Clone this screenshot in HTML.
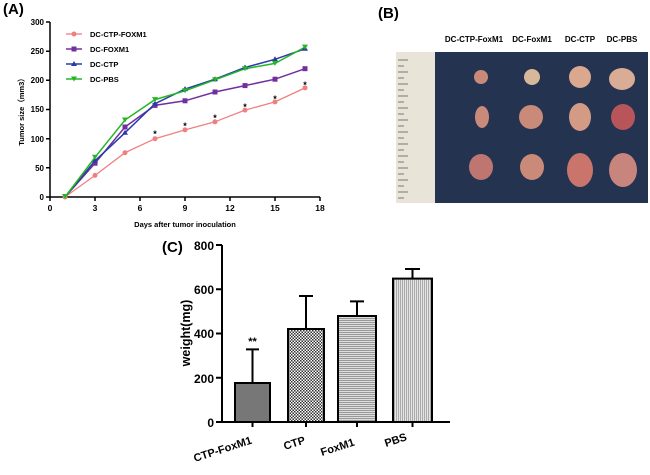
<!DOCTYPE html>
<html><head><meta charset="utf-8"><style>
body{margin:0;background:#fff;width:650px;height:475px;overflow:hidden}
svg{display:block;font-family:"Liberation Sans",Arial,sans-serif;font-weight:bold}
</style></head><body>
<svg width="650" height="475" viewBox="0 0 650 475">
<defs>
<pattern id="chk" width="3" height="3" patternUnits="userSpaceOnUse"><rect width="3" height="3" fill="#fff"/><rect width="1.5" height="1.5" fill="#333"/><rect x="1.5" y="1.5" width="1.5" height="1.5" fill="#333"/></pattern>
<pattern id="hz" width="4" height="2" patternUnits="userSpaceOnUse"><rect width="4" height="2" fill="#ddd"/><rect width="4" height="1" fill="#999"/></pattern>
<pattern id="vt" width="2" height="4" patternUnits="userSpaceOnUse"><rect width="2" height="4" fill="#e4e4e4"/><rect width="1" height="4" fill="#aaa"/></pattern>
</defs>
<!-- Panel A -->
<text x="3" y="14" font-size="15">(A)</text>
<g stroke="#000" stroke-width="1.5" fill="none">
<line x1="50" y1="22" x2="50" y2="197"/><line x1="50" y1="197" x2="320" y2="197"/>
<path d="M46 22h4M46 51.2h4M46 80.3h4M46 109.5h4M46 138.7h4M46 167.8h4M46 197h4"/>
<path d="M50 197v4M95 197v4M140 197v4M185 197v4M230 197v4M275 197v4M320 197v4"/>
</g>
<g font-size="8" text-anchor="end">
<text x="44" y="25">300</text><text x="44" y="54">250</text><text x="44" y="83">200</text><text x="44" y="112">150</text><text x="44" y="142">100</text><text x="44" y="171">50</text><text x="44" y="200">0</text>
</g>
<g font-size="8.5" text-anchor="middle">
<text x="50" y="211">0</text><text x="95" y="211">3</text><text x="140" y="211">6</text><text x="185" y="211">9</text><text x="230" y="211">12</text><text x="275" y="211">15</text><text x="320" y="211">18</text>
</g>
<text x="185" y="227" font-size="7.5" text-anchor="middle">Days after tumor inoculation</text>
<text transform="translate(24,110) rotate(-90)" font-size="7.5" text-anchor="middle">Tumor size（mm3）</text>
<polyline fill="none" stroke="#f08080" stroke-width="1.3" points="65,197 95,175.4 125,152.7 155,138.7 185,129.9 215,121.8 245,110.1 275,101.9 305,87.9"/>
<polyline fill="none" stroke="#7030a0" stroke-width="1.5" points="65,197 95,163.2 125,127 155,105.4 185,100.8 215,92 245,85.6 275,79.2 305,68.7"/>
<polyline fill="none" stroke="#2b3aa8" stroke-width="1.5" points="65,197 95,160.8 125,132.8 155,103.7 185,89.1 215,79.2 245,67.5 275,59.3 305,48.8"/>
<polyline fill="none" stroke="#22b822" stroke-width="1.5" points="65,197 95,157.3 125,120 155,99.6 185,90.8 215,79.8 245,68.7 275,63.4 305,47.1"/>
<g fill="#f08080"><circle cx="65" cy="197" r="2.5"/><circle cx="95" cy="175.4" r="2.5"/><circle cx="125" cy="152.7" r="2.5"/><circle cx="155" cy="138.7" r="2.5"/><circle cx="185" cy="129.9" r="2.5"/><circle cx="215" cy="121.8" r="2.5"/><circle cx="245" cy="110.1" r="2.5"/><circle cx="275" cy="101.9" r="2.5"/><circle cx="305" cy="87.9" r="2.5"/></g>
<g fill="#7030a0"><rect x="92.5" y="160.7" width="5" height="5"/><rect x="122.5" y="124.5" width="5" height="5"/><rect x="152.5" y="102.9" width="5" height="5"/><rect x="182.5" y="98.3" width="5" height="5"/><rect x="212.5" y="89.5" width="5" height="5"/><rect x="242.5" y="83.1" width="5" height="5"/><rect x="272.5" y="76.7" width="5" height="5"/><rect x="302.5" y="66.2" width="5" height="5"/></g>
<g fill="#2b3aa8"><path d="M95 157.8l3 5h-6zM125 129.8l3 5h-6zM155 100.7l3 5h-6zM185 86.1l3 5h-6zM215 76.2l3 5h-6zM245 64.5l3 5h-6zM275 56.3l3 5h-6zM305 45.8l3 5h-6z"/></g>
<g fill="#22b822"><path d="M62 194h6l-3 5zM92 154.8h6l-3 5zM122 117.5h6l-3 5zM152 97.1h6l-3 5zM182 88.3h6l-3 5zM212 77.3h6l-3 5zM242 66.2h6l-3 5zM272 60.9h6l-3 5zM302 44.6h6l-3 5z"/></g>
<g font-size="9" text-anchor="middle"><text x="155" y="137">*</text><text x="185" y="129">*</text><text x="215" y="121">*</text><text x="245" y="110">*</text><text x="275" y="102">*</text><text x="305" y="88">*</text></g>
<g font-size="7.5">
<line x1="66" y1="34" x2="82" y2="34" stroke="#f08080" stroke-width="1.3"/><circle cx="74" cy="34" r="2.5" fill="#f08080"/><text x="90" y="37">DC-CTP-FOXM1</text>
<line x1="66" y1="49" x2="82" y2="49" stroke="#7030a0" stroke-width="1.5"/><rect x="71.5" y="46.5" width="5" height="5" fill="#7030a0"/><text x="90" y="52">DC-FOXM1</text>
<line x1="66" y1="64" x2="82" y2="64" stroke="#2b3aa8" stroke-width="1.5"/><path d="M74 61l3 5h-6z" fill="#2b3aa8"/><text x="90" y="67">DC-CTP</text>
<line x1="66" y1="79" x2="82" y2="79" stroke="#22b822" stroke-width="1.5"/><path d="M71 76.5h6l-3 5z" fill="#22b822"/><text x="90" y="82">DC-PBS</text>
</g>
<!-- Panel B -->
<text x="378" y="18" font-size="15">(B)</text>
<g font-size="8" text-anchor="middle"><text x="474" y="42">DC-CTP-FoxM1</text><text x="532" y="42">DC-FoxM1</text><text x="580" y="42">DC-CTP</text><text x="622" y="42">DC-PBS</text></g>
<rect x="396" y="52" width="252" height="151" fill="#243350"/>
<rect x="396" y="52" width="39" height="151" fill="#e8e4d8"/>
<g stroke="#555" stroke-width="0.7"><path d="M398 60h10M398 66h6M398 72h10M398 78h6M398 84h10M398 90h6M398 96h10M398 102h6M398 108h10M398 114h6M398 120h10M398 126h6M398 132h10M398 138h6M398 144h10M398 150h6M398 156h10M398 162h6M398 168h10M398 174h6M398 180h10M398 186h6M398 192h10M398 198h6"/></g>
<g fill="#c98a7a">
<ellipse cx="481" cy="77" rx="7" ry="7"/><ellipse cx="532" cy="77" rx="8" ry="8" fill="#d8b89a"/><ellipse cx="580" cy="77" rx="11" ry="11" fill="#d9a88f"/><ellipse cx="622" cy="79" rx="13" ry="11" fill="#d9ac95"/>
<ellipse cx="482" cy="117" rx="7" ry="11"/><ellipse cx="531" cy="117" rx="12" ry="12"/><ellipse cx="580" cy="117" rx="11" ry="14" fill="#d39a86"/><ellipse cx="623" cy="117" rx="12" ry="13" fill="#b8555a"/>
<ellipse cx="481" cy="167" rx="12" ry="13" fill="#c07670"/><ellipse cx="532" cy="167" rx="12" ry="13"/><ellipse cx="580" cy="170" rx="13" ry="17" fill="#c9756b"/><ellipse cx="623" cy="170" rx="14" ry="17" fill="#c7857d"/>
</g>
<!-- Panel C -->
<text x="162" y="252" font-size="15">(C)</text>
<g stroke="#000" stroke-width="2" fill="none">
<line x1="222" y1="245" x2="222" y2="422"/><line x1="222" y1="422" x2="450" y2="422"/>
<path d="M216 245h6M216 289.3h6M216 333.5h6M216 377.8h6M216 422h6"/>
<path d="M252.5 422v5M306 422v5M357 422v5M412.5 422v5"/>
</g>
<g font-size="12" text-anchor="end"><text x="214" y="250">800</text><text x="214" y="294">600</text><text x="214" y="338">400</text><text x="214" y="383">200</text><text x="214" y="427">0</text></g>
<text transform="translate(190,333) rotate(-90)" font-size="12.5" text-anchor="middle">weight(mg)</text>
<g stroke="#000" stroke-width="2">
<path d="M252.5 383V349.4M246 349.4h13M306 329V296M299 296h14M357 316V301.4M350 301.4h14M412.5 278.6V269M405 269h15" fill="none"/>
<rect x="235" y="383" width="35" height="39" fill="#777"/>
<rect x="288" y="329" width="36" height="93" fill="url(#chk)"/>
<rect x="338" y="316" width="38" height="106" fill="url(#hz)"/>
<rect x="393" y="278.6" width="39" height="143.4" fill="url(#vt)"/>
</g>
<text x="252.5" y="345" font-size="11" text-anchor="middle">**</text>
<g font-size="11">
<text transform="translate(195,462) rotate(-18)">CTP-FoxM1</text>
<text transform="translate(285,450) rotate(-18)">CTP</text>
<text transform="translate(322,456) rotate(-18)">FoxM1</text>
<text transform="translate(386,447) rotate(-18)">PBS</text>
</g>
</svg>
</body></html>
